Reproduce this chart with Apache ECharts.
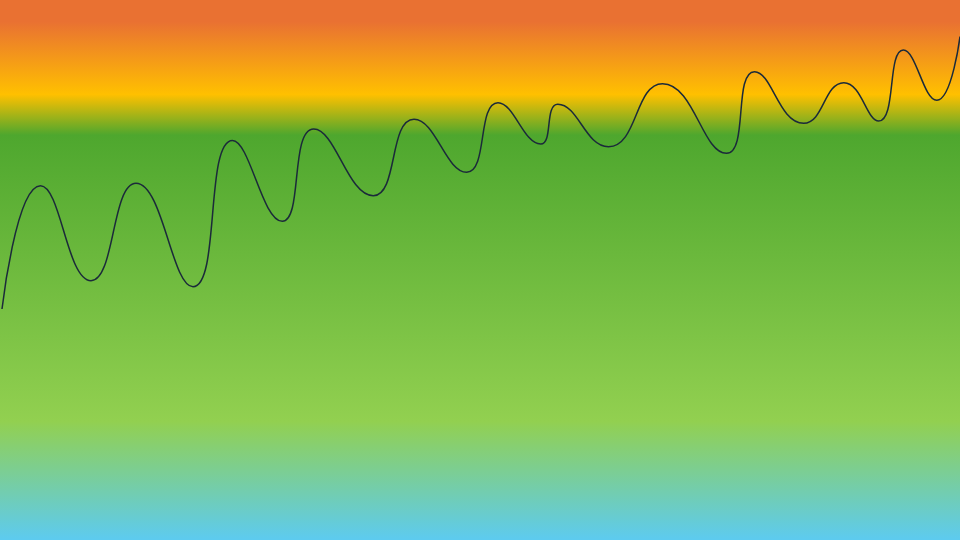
<!DOCTYPE html>
<html>
<head>
<meta charset="utf-8">
<script src="https://cdn.jsdelivr.net/npm/echarts@6/dist/echarts.min.js"></script>
<style>html,body{margin:0;padding:0;}#c{width:960px;height:540px;}</style>
</head>
<body>
<div id="c"></div>
<script>
// x positions (0-960 scale) and values (0-540 scale, higher = up)
const xs = [2, 40.5, 91, 136, 193, 232.5, 282.3, 313.7, 373.3, 414, 466.7, 498, 540.7, 557.8, 608.5, 662.5, 726.5, 754.5, 803.7, 843.8, 878.7, 903.3, 936.8, 960];
const ys = [231, 354.3, 259.3, 356.7, 253.3, 399.5, 318.7, 411, 344.3, 420.7, 367.7, 437.3, 396, 435.7, 393.3, 456.3, 386.7, 468.3, 416.7, 457.3, 419, 490, 439.7, 503.5];
const bgStops = [[0, '#E97132'], [0.04, '#E97132'], [0.175, '#FFC000'], [0.25, '#4EA72E'], [0.78, '#92D050'], [1, '#5DCBF0']];

const chart = echarts.init(document.getElementById('c'));
chart.setOption({
  backgroundColor: new echarts.graphic.LinearGradient(0, 0, 0, 1,
    bgStops.map(s => ({offset: s[0], color: s[1]}))),
  animation: false,
  grid: {left: 0, right: 0, top: 0, bottom: 0},
  xAxis: {type: 'value', min: 0, max: 960, show: false},
  yAxis: {type: 'value', min: 0, max: 540, show: false},
  series: [{
    type: 'line',
    data: xs.map((x, i) => [x, ys[i]]),
    smooth: 0.5,
    showSymbol: false,
    lineStyle: {color: '#1B2A3A', width: 1.5}
  }]
});
</script>
</body>
</html>
